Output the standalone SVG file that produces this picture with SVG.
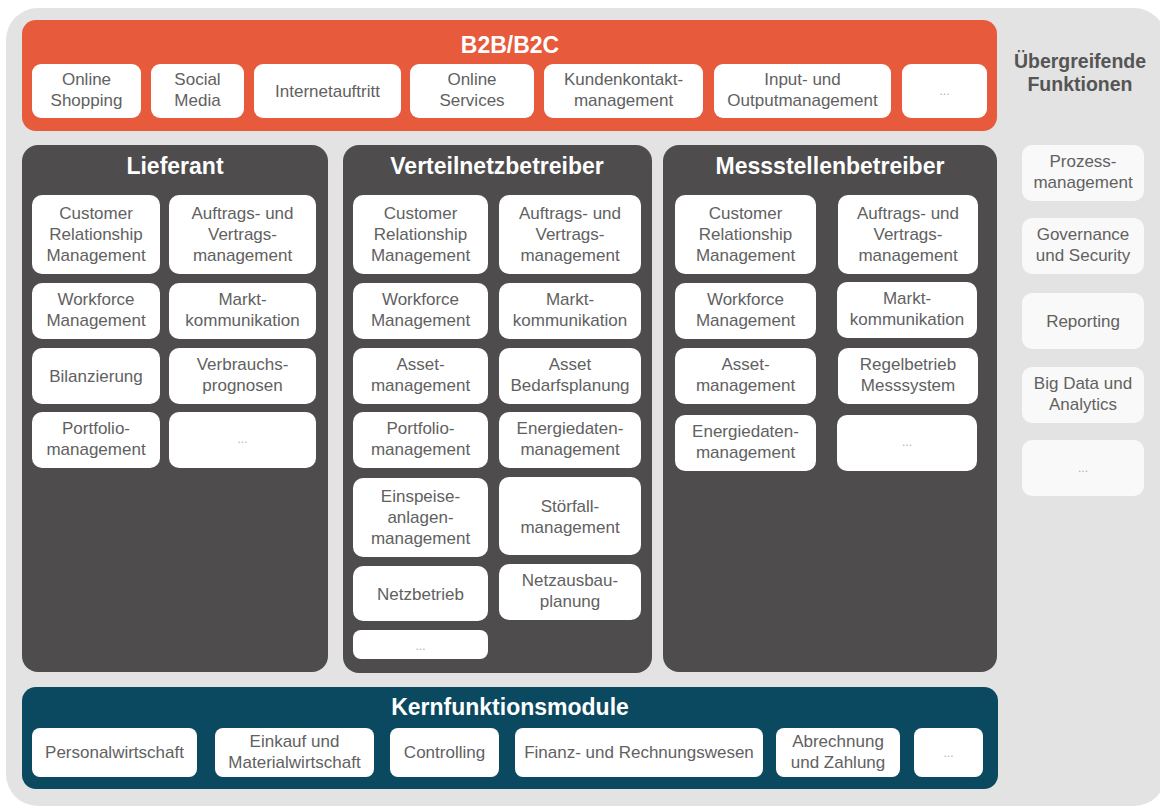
<svg xmlns="http://www.w3.org/2000/svg" width="1160" height="808" viewBox="0 0 1160 808">
  <style>
    .bg { fill: #e3e3e3; }
    .band-orange { fill: #e75a3b; }
    .band-teal { fill: #0b4960; }
    .column { fill: #4e4c4c; }
    .box { fill: #ffffff; }
    .side { fill: #f9f9f9; }
    text { font-family: "Liberation Sans", Arial, sans-serif; text-anchor: middle; }
    .title { font-size: 23px; font-weight: bold; fill: #ffffff; }
    .side-title { font-size: 19.5px; font-weight: bold; fill: #555555; }
    .label { font-size: 17px; fill: #616161; }
    .more { font-size: 12px; fill: #b0b0b0; }
  </style>

  <!-- canvas -->
  <rect class="bg" x="6" y="8" width="1160" height="798" rx="32"/>

  <!-- B2B/B2C layer -->
  <g id="b2b-b2c">
    <rect class="band-orange" x="22" y="20" width="975" height="111" rx="14"/>
    <text class="title" x="510" y="53">B2B/B2C</text>
    <g id="online-shopping"><rect class="box" x="32" y="64" width="109" height="54" rx="9"/>
      <text class="label" x="86.5" y="85">Online<tspan x="86.5" dy="21">Shopping</tspan></text></g>
    <g id="social-media"><rect class="box" x="151" y="64" width="93" height="54" rx="9"/>
      <text class="label" x="197.5" y="85">Social<tspan x="197.5" dy="21">Media</tspan></text></g>
    <g id="internetauftritt"><rect class="box" x="254" y="64" width="147" height="54" rx="9"/>
      <text class="label" x="327.5" y="97">Internetauftritt</text></g>
    <g id="online-services"><rect class="box" x="410" y="64" width="124" height="54" rx="9"/>
      <text class="label" x="472" y="85">Online<tspan x="472" dy="21">Services</tspan></text></g>
    <g id="kundenkontakt"><rect class="box" x="544" y="64" width="159" height="54" rx="9"/>
      <text class="label" x="623.5" y="85">Kundenkontakt-<tspan x="623.5" dy="21">management</tspan></text></g>
    <g id="input-output"><rect class="box" x="714" y="64" width="177" height="54" rx="9"/>
      <text class="label" x="802.5" y="85">Input- und<tspan x="802.5" dy="21">Outputmanagement</tspan></text></g>
    <g id="b2b-more"><rect class="box" x="902" y="64" width="85" height="54" rx="9"/>
      <text class="more" x="944.5" y="95">...</text></g>
  </g>

  <!-- Lieferant column -->
  <g id="lieferant">
    <rect class="column" x="22" y="145" width="306" height="527" rx="16"/>
    <text class="title" x="175" y="174">Lieferant</text>
    <g id="l-crm"><rect class="box" x="32" y="195" width="128" height="79" rx="10"/>
      <text class="label" x="96" y="219">Customer<tspan x="96" dy="21">Relationship</tspan><tspan x="96" dy="21">Management</tspan></text></g>
    <g id="l-auftrag"><rect class="box" x="169" y="195" width="147" height="79" rx="10"/>
      <text class="label" x="242.5" y="219">Auftrags- und<tspan x="242.5" dy="21">Vertrags-</tspan><tspan x="242.5" dy="21">management</tspan></text></g>
    <g id="l-workforce"><rect class="box" x="32" y="283" width="128" height="56" rx="10"/>
      <text class="label" x="96" y="305">Workforce<tspan x="96" dy="21">Management</tspan></text></g>
    <g id="l-markt"><rect class="box" x="169" y="283" width="147" height="56" rx="10"/>
      <text class="label" x="242.5" y="305">Markt-<tspan x="242.5" dy="21">kommunikation</tspan></text></g>
    <g id="l-bilanz"><rect class="box" x="32" y="348" width="128" height="56" rx="10"/>
      <text class="label" x="96" y="382">Bilanzierung</text></g>
    <g id="l-verbrauch"><rect class="box" x="169" y="348" width="147" height="56" rx="10"/>
      <text class="label" x="242.5" y="370">Verbrauchs-<tspan x="242.5" dy="21">prognosen</tspan></text></g>
    <g id="l-portfolio"><rect class="box" x="32" y="412" width="128" height="56" rx="10"/>
      <text class="label" x="96" y="434">Portfolio-<tspan x="96" dy="21">management</tspan></text></g>
    <g id="l-more"><rect class="box" x="169" y="412" width="147" height="56" rx="10"/>
      <text class="more" x="242.5" y="443">...</text></g>
  </g>

  <!-- Verteilnetzbetreiber column -->
  <g id="verteilnetzbetreiber">
    <rect class="column" x="343" y="145" width="309" height="528" rx="16"/>
    <text class="title" x="497" y="174">Verteilnetzbetreiber</text>
    <g id="v-crm"><rect class="box" x="353" y="195" width="135" height="79" rx="10"/>
      <text class="label" x="420.5" y="219">Customer<tspan x="420.5" dy="21">Relationship</tspan><tspan x="420.5" dy="21">Management</tspan></text></g>
    <g id="v-auftrag"><rect class="box" x="499" y="195" width="142" height="79" rx="10"/>
      <text class="label" x="570" y="219">Auftrags- und<tspan x="570" dy="21">Vertrags-</tspan><tspan x="570" dy="21">management</tspan></text></g>
    <g id="v-workforce"><rect class="box" x="353" y="283" width="135" height="56" rx="10"/>
      <text class="label" x="420.5" y="305">Workforce<tspan x="420.5" dy="21">Management</tspan></text></g>
    <g id="v-markt"><rect class="box" x="499" y="283" width="142" height="56" rx="10"/>
      <text class="label" x="570" y="305">Markt-<tspan x="570" dy="21">kommunikation</tspan></text></g>
    <g id="v-asset"><rect class="box" x="353" y="348" width="135" height="56" rx="10"/>
      <text class="label" x="420.5" y="370">Asset-<tspan x="420.5" dy="21">management</tspan></text></g>
    <g id="v-asset-bedarf"><rect class="box" x="499" y="348" width="142" height="56" rx="10"/>
      <text class="label" x="570" y="370">Asset<tspan x="570" dy="21">Bedarfsplanung</tspan></text></g>
    <g id="v-portfolio"><rect class="box" x="353" y="412" width="135" height="56" rx="10"/>
      <text class="label" x="420.5" y="434">Portfolio-<tspan x="420.5" dy="21">management</tspan></text></g>
    <g id="v-energiedaten"><rect class="box" x="499" y="412" width="142" height="56" rx="10"/>
      <text class="label" x="570" y="434">Energiedaten-<tspan x="570" dy="21">management</tspan></text></g>
    <g id="v-einspeise"><rect class="box" x="353" y="478" width="135" height="79" rx="10"/>
      <text class="label" x="420.5" y="502">Einspeise-<tspan x="420.5" dy="21">anlagen-</tspan><tspan x="420.5" dy="21">management</tspan></text></g>
    <g id="v-stoerfall"><rect class="box" x="499" y="477" width="142" height="78" rx="10"/>
      <text class="label" x="570" y="512">Störfall-<tspan x="570" dy="21">management</tspan></text></g>
    <g id="v-netzbetrieb"><rect class="box" x="353" y="566" width="135" height="55" rx="10"/>
      <text class="label" x="420.5" y="600">Netzbetrieb</text></g>
    <g id="v-netzausbau"><rect class="box" x="499" y="564" width="142" height="56" rx="10"/>
      <text class="label" x="570" y="586">Netzausbau-<tspan x="570" dy="21">planung</tspan></text></g>
    <g id="v-more"><rect class="box" x="353" y="630" width="135" height="29" rx="8"/>
      <text class="more" x="420.5" y="650">...</text></g>
  </g>

  <!-- Messstellenbetreiber column -->
  <g id="messstellenbetreiber">
    <rect class="column" x="663" y="145" width="334" height="527" rx="16"/>
    <text class="title" x="830" y="174">Messstellenbetreiber</text>
    <g id="m-crm"><rect class="box" x="675" y="195" width="141" height="79" rx="10"/>
      <text class="label" x="745.5" y="219">Customer<tspan x="745.5" dy="21">Relationship</tspan><tspan x="745.5" dy="21">Management</tspan></text></g>
    <g id="m-auftrag"><rect class="box" x="838" y="195" width="140" height="79" rx="10"/>
      <text class="label" x="908" y="219">Auftrags- und<tspan x="908" dy="21">Vertrags-</tspan><tspan x="908" dy="21">management</tspan></text></g>
    <g id="m-workforce"><rect class="box" x="675" y="283" width="141" height="56" rx="10"/>
      <text class="label" x="745.5" y="305">Workforce<tspan x="745.5" dy="21">Management</tspan></text></g>
    <g id="m-markt"><rect class="box" x="837" y="282" width="140" height="56" rx="10"/>
      <text class="label" x="907" y="304">Markt-<tspan x="907" dy="21">kommunikation</tspan></text></g>
    <g id="m-asset"><rect class="box" x="675" y="348" width="141" height="56" rx="10"/>
      <text class="label" x="745.5" y="370">Asset-<tspan x="745.5" dy="21">management</tspan></text></g>
    <g id="m-regelbetrieb"><rect class="box" x="838" y="348" width="140" height="56" rx="10"/>
      <text class="label" x="908" y="370">Regelbetrieb<tspan x="908" dy="21">Messsystem</tspan></text></g>
    <g id="m-energiedaten"><rect class="box" x="675" y="415" width="141" height="56" rx="10"/>
      <text class="label" x="745.5" y="437">Energiedaten-<tspan x="745.5" dy="21">management</tspan></text></g>
    <g id="m-more"><rect class="box" x="837" y="415" width="140" height="56" rx="10"/>
      <text class="more" x="907" y="446">...</text></g>
  </g>

  <!-- cross-cutting functions -->
  <g id="uebergreifend">
    <text class="side-title" x="1080" y="68">Übergreifende<tspan x="1080" dy="23">Funktionen</tspan></text>
    <g id="prozess"><rect class="side" x="1022" y="145" width="122" height="56" rx="10"/>
      <text class="label" x="1083" y="167">Prozess-<tspan x="1083" dy="21">management</tspan></text></g>
    <g id="governance"><rect class="side" x="1022" y="218" width="122" height="56" rx="10"/>
      <text class="label" x="1083" y="240">Governance<tspan x="1083" dy="21">und Security</tspan></text></g>
    <g id="reporting"><rect class="side" x="1022" y="293" width="122" height="56" rx="10"/>
      <text class="label" x="1083" y="327">Reporting</text></g>
    <g id="bigdata"><rect class="side" x="1022" y="367" width="122" height="56" rx="10"/>
      <text class="label" x="1083" y="389">Big Data und<tspan x="1083" dy="21">Analytics</tspan></text></g>
    <g id="side-more"><rect class="side" x="1022" y="440" width="122" height="56" rx="10"/>
      <text class="more" x="1083" y="472">...</text></g>
  </g>

  <!-- core modules -->
  <g id="kernfunktionsmodule">
    <rect class="band-teal" x="22" y="687" width="976" height="102" rx="14"/>
    <text class="title" x="510" y="715">Kernfunktionsmodule</text>
    <g id="personal"><rect class="box" x="32" y="728" width="165" height="49" rx="8"/>
      <text class="label" x="114.5" y="758">Personalwirtschaft</text></g>
    <g id="einkauf"><rect class="box" x="215" y="728" width="159" height="49" rx="8"/>
      <text class="label" x="294.5" y="747">Einkauf und<tspan x="294.5" dy="21">Materialwirtschaft</tspan></text></g>
    <g id="controlling"><rect class="box" x="390" y="728" width="109" height="49" rx="8"/>
      <text class="label" x="444.5" y="758">Controlling</text></g>
    <g id="finanz"><rect class="box" x="515" y="728" width="248" height="49" rx="8"/>
      <text class="label" x="639" y="758">Finanz- und Rechnungswesen</text></g>
    <g id="abrechnung"><rect class="box" x="776" y="728" width="124" height="49" rx="8"/>
      <text class="label" x="838" y="747">Abrechnung<tspan x="838" dy="21">und Zahlung</tspan></text></g>
    <g id="core-more"><rect class="box" x="914" y="728" width="69" height="49" rx="8"/>
      <text class="more" x="948.5" y="757">...</text></g>
  </g>

  <!-- no connectors in this layer diagram -->
  <g id="connectors"/>
</svg>
